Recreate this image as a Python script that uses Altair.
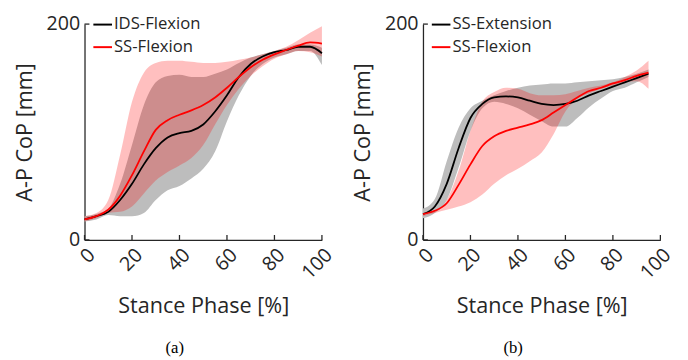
import altair as alt
import pandas as pd

# ---------------- data ----------------
x_a = [0, 5, 10, 15, 20, 25, 30, 35, 40, 45, 50, 55, 60, 65, 70, 75, 80, 85, 90, 95, 100]

ids_flex_mean = [19, 22, 26, 37, 52, 70, 85, 95, 99, 101, 107, 119, 134, 151, 163, 170, 174, 176, 179, 179, 173]
ids_flex_lo = [17, 19, 23, 22, 22, 25, 37, 46, 50, 57, 66, 82, 110, 134, 152, 163, 169, 172, 175, 175, 162]
ids_flex_hi = [22, 24, 29, 52, 88, 125, 146, 152, 153, 151, 151, 154, 158, 164, 169, 172, 175, 178, 181, 181, 178]

ssf_a_mean = [19, 22, 28, 41, 60, 82, 102, 111, 116, 120, 125, 132, 141, 151, 160, 167, 172, 176, 180, 183, 182]
ssf_a_lo = [17, 20, 25, 26, 31, 43, 55, 63, 69, 76, 88, 107, 125, 140, 152, 161, 168, 172, 175, 174, 170]
ssf_a_hi = [22, 25, 37, 79, 128, 155, 164, 166, 166, 165, 164, 164, 165, 167, 169, 172, 175, 179, 185, 192, 198]

x_b = [0, 5, 10, 15, 20, 25, 30, 35, 40, 45, 50, 55, 60, 65, 70, 75, 80, 85, 90, 95]

sse_mean = [24, 31, 52, 85, 113, 126, 132, 133, 132, 129, 126, 125, 126, 129, 134, 138, 142, 146, 150, 154]
sse_lo = [20, 25, 37, 67, 101, 122, 128, 126, 122, 116, 110, 105, 105, 113, 123, 131, 138, 141, 146, 151]
sse_hi = [29, 38, 73, 104, 122, 129, 134, 138, 141, 143, 144, 145, 145, 146, 147, 148, 149, 151, 154, 158]

ssf_b_mean = [24, 27, 34, 51, 70, 87, 96, 101, 104, 107, 111, 118, 125, 132, 138, 141, 145, 148, 152, 155]
ssf_b_lo = [22, 25, 28, 31, 35, 42, 52, 60, 66, 73, 81, 98, 119, 131, 136, 140, 143, 146, 147, 140]
ssf_b_hi = [23, 26, 37, 64, 101, 128, 137, 141, 140, 136, 134, 134, 135, 138, 141, 143, 146, 151, 157, 166]

x_ticks = [0, 20, 40, 60, 80, 100]
y_ticks = [0, 200]

W, H = 242, 220
FONT = "Open Sans"
TXT = "#262626"


def panel(x, m1, lo1, hi1, m2, lo2, hi2, name1, name2, caption):
    band_df = pd.DataFrame({"x": x, "lo1": lo1, "hi1": hi1, "lo2": lo2, "hi2": hi2})
    line_df = pd.concat([
        pd.DataFrame({"x": x, "v": m1, "s": name1, "o": 0}),
        pd.DataFrame({"x": x, "v": m2, "s": name2, "o": 1}),
    ])
    xs = alt.Scale(domain=[0, 100], nice=False)
    ys = alt.Scale(domain=[0, 200], nice=False)

    band1 = alt.Chart(band_df).mark_area(color="#bdbdbd", interpolate="monotone").encode(
        x=alt.X("x:Q", scale=xs, axis=alt.Axis(
            values=x_ticks, title="Stance Phase [%]", labelAngle=-45, ticks=False,
            labelPadding=5, titlePadding=14)),
        y=alt.Y("lo1:Q", scale=ys, axis=alt.Axis(
            values=y_ticks, title="A-P CoP [mm]", ticks=False, labelPadding=5,
            titlePadding=10)),
        y2="hi1:Q",
    )
    band2 = alt.Chart(band_df).mark_area(color="#ff0000", opacity=0.25, interpolate="monotone").encode(
        x="x:Q", y="lo2:Q", y2="hi2:Q",
    )
    lines = alt.Chart(line_df).mark_line(strokeWidth=1.8, interpolate="monotone").encode(
        x="x:Q",
        y="v:Q",
        color=alt.Color("s:N", scale=alt.Scale(domain=[name1, name2], range=["#000000", "#ff0000"]),
                        legend=alt.Legend(orient="none", legendX=8, legendY=-10, title=None,
                                          padding=0, symbolType="stroke", symbolSize=360,
                                          symbolStrokeWidth=2, labelFont=FONT, labelFontSize=17,
                                          labelColor=TXT, labelOffset=1, rowPadding=4)),
        order="o:Q",
    )
    xt = alt.Chart(pd.DataFrame({"t": x_ticks})).mark_rule(color=TXT, strokeWidth=1.3).encode(
        x="t:Q", y=alt.value(H), y2=alt.value(H - 5))
    yt = alt.Chart(pd.DataFrame({"t": y_ticks})).mark_rule(color=TXT, strokeWidth=1.3).encode(
        y="t:Q", x=alt.value(0), x2=alt.value(5))
    return alt.layer(band1, band2, lines, xt, yt).properties(
        width=W, height=H,
        title=alt.TitleParams(caption, orient="bottom", font="Liberation Serif", fontSize=17,
                              fontWeight="normal", color="black", offset=24, frame="bounds",
                              anchor="middle"),
    )


left = panel(x_a, ids_flex_mean, ids_flex_lo, ids_flex_hi, ssf_a_mean, ssf_a_lo, ssf_a_hi,
             "IDS-Flexion", "SS-Flexion", "(a)")
right = panel(x_b, sse_mean, sse_lo, sse_hi, ssf_b_mean, ssf_b_lo, ssf_b_hi,
              "SS-Extension", "SS-Flexion", "(b)")

chart = alt.hconcat(left, right, spacing=15).resolve_scale(color="independent").resolve_legend(
    color="independent"
).configure_view(stroke=None).configure_axis(
    grid=False, labelFont=FONT, titleFont=FONT, labelFontSize=20, titleFontSize=22,
    labelColor=TXT, titleColor=TXT, titleFontWeight="normal", domainColor=TXT,
    domainWidth=1.3,
).properties(padding={"left": 5, "top": 3, "right": 5, "bottom": 0})

chart.save("out.html", embed_options={"renderer": "svg", "actions": False})
